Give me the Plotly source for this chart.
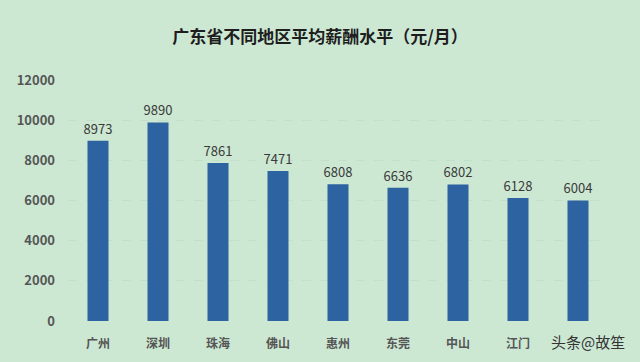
import plotly.graph_objects as go

categories = ["广州", "深圳", "珠海", "佛山", "惠州", "东莞", "中山", "江门", "肇庆"]
values = [8973, 9890, 7861, 7471, 6808, 6636, 6802, 6128, 6004]
y_ticks = [0, 2000, 4000, 6000, 8000, 10000, 12000]
# last category label is hidden under the watermark in the reference
x_tick_labels = ["<b>%s</b>" % c for c in categories[:-1]] + [""]

bg = "#cce8d3"
font_family = "Noto Sans CJK SC, Noto Sans, sans-serif"

fig = go.Figure(go.Bar(
    x=categories, y=values,
    marker=dict(color="#2d63a0", line=dict(width=0)),
    text=[str(v) for v in values],
    textposition="outside",
    constraintext="none",
    textfont=dict(size=13, color="#3a3a3a", family=font_family),
    cliponaxis=False,
    width=0.35,
    hoverinfo="skip",
))

fig.update_layout(
    width=640, height=362,
    paper_bgcolor=bg, plot_bgcolor=bg,
    margin=dict(l=68, r=32, t=80, b=41),
    showlegend=False,
    title=dict(text="<b>广东省不同地区平均薪酬水平（元/月）</b>", x=0.5, xanchor="center",
               y=0.898, yanchor="middle",
               font=dict(size=17, color="#1e1e1e", family=font_family)),
    xaxis=dict(showline=False, ticks="", showgrid=False,
               tickvals=categories, ticktext=x_tick_labels,
               ticklabelstandoff=14,
               tickfont=dict(size=12, color="#555555", family=font_family)),
    yaxis=dict(range=[0, 12000], tickvals=y_ticks,
               ticktext=["<b>%d</b>" % t for t in y_ticks],
               showline=False, ticks="",
               showgrid=True, gridcolor="#c2dfca", griddash="dash", gridwidth=1,
               zeroline=False, ticklabelstandoff=12,
               tickfont=dict(size=13, color="#555555", family=font_family)),
)

fig.add_annotation(text="头条@故笙", xref="paper", yref="paper", x=1.035, y=-0.085,
                   xanchor="right", yanchor="middle", showarrow=False,
                   font=dict(size=15, color="#333333", family=font_family))

fig.write_html("out.html", config={"displayModeBar": False},
               post_script="document.body.style.margin='0';document.body.style.overflow='hidden';")
